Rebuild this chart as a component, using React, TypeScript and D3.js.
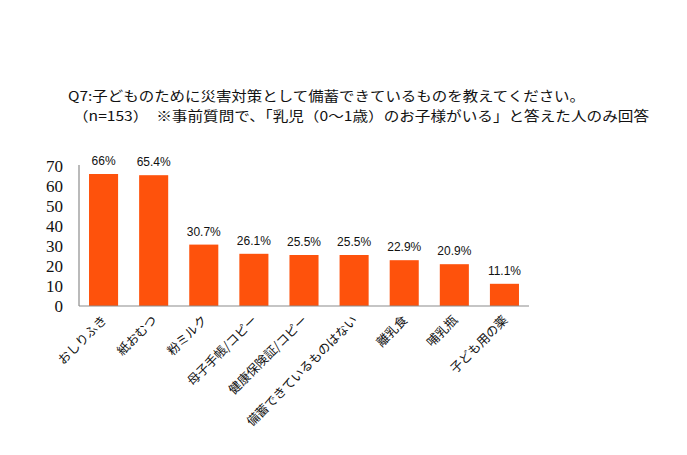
import { useEffect, useRef } from 'react';
import * as d3 from 'd3';

const categories = [
  'おしりふき',
  '紙おむつ',
  '粉ミルク',
  '母子手帳/コピー',
  '健康保険証/コピー',
  '備蓄できているものはない',
  '離乳食',
  '哺乳瓶',
  '子ども用の薬',
];
const values = [66, 65.4, 30.7, 26.1, 25.5, 25.5, 22.9, 20.9, 11.1];
const valueLabels = ['66%', '65.4%', '30.7%', '26.1%', '25.5%', '25.5%', '22.9%', '20.9%', '11.1%'];
const yTicks = [0, 10, 20, 30, 40, 50, 60, 70];

const titleLine1 = 'Q7:子どものために災害対策として備蓄できているものを教えてください。';
const titleLine2 = '（n=153）　※事前質問で、「乳児（0～1歳）のお子様がいる」と答えた人のみ回答';

const App = () => {
  const svgRef = useRef<SVGSVGElement>(null);

  useEffect(() => {
    const svg = d3.select(svgRef.current);
    svg.selectAll('*').remove();

    const left = 79;
    const right = 529;
    const top = 166;
    const bottom = 306;

    svg.append('rect').attr('width', 687).attr('height', 455).attr('fill', '#fff');

    // Title
    const jp = '"Noto Sans CJK JP", sans-serif';
    svg
      .append('text')
      .attr('x', 68)
      .attr('y', 101)
      .attr('textLength', 517)
      .attr('lengthAdjust', 'spacingAndGlyphs')
      .style('font-family', jp)
      .style('font-size', '13.5px')
      .style('fill', '#111')
      .text(titleLine1);
    svg
      .append('text')
      .attr('x', 73)
      .attr('y', 121)
      .attr('textLength', 576)
      .attr('lengthAdjust', 'spacingAndGlyphs')
      .style('font-family', jp)
      .style('font-size', '13.5px')
      .style('fill', '#111')
      .text(titleLine2);

    const x = d3.scaleBand().domain(categories).range([left, right]).paddingInner(0.42).paddingOuter(0.2);
    const y = d3.scaleLinear().domain([0, 70]).range([bottom, top]);

    // Y tick labels (no tick marks)
    svg
      .append('g')
      .selectAll('text')
      .data(yTicks)
      .enter()
      .append('text')
      .attr('x', 63)
      .attr('y', d => y(d) + 6)
      .attr('text-anchor', 'end')
      .style('font-family', '"Liberation Serif", serif')
      .style('font-size', '17px')
      .style('fill', '#111')
      .text(d => d);

    // Bars
    svg
      .append('g')
      .selectAll('rect')
      .data(values)
      .enter()
      .append('rect')
      .attr('x', (d, i) => x(categories[i])!)
      .attr('y', d => y(d))
      .attr('width', x.bandwidth())
      .attr('height', d => y(0) - y(d))
      .attr('fill', '#fe520c');

    // Value labels
    svg
      .append('g')
      .selectAll('text')
      .data(values)
      .enter()
      .append('text')
      .attr('x', (d, i) => x(categories[i])! + x.bandwidth() / 2)
      .attr('y', d => y(d) - 9)
      .attr('text-anchor', 'middle')
      .style('font-family', '"Liberation Sans", Arial, sans-serif')
      .style('font-size', '12px')
      .style('fill', '#111')
      .text((d, i) => valueLabels[i]);

    // Axis lines
    svg
      .append('line')
      .attr('x1', left)
      .attr('x2', left)
      .attr('y1', top - 1)
      .attr('y2', bottom)
      .attr('stroke', '#8c8c8c')
      .attr('stroke-width', 1.2);
    svg
      .append('line')
      .attr('x1', left)
      .attr('x2', right)
      .attr('y1', bottom)
      .attr('y2', bottom)
      .attr('stroke', '#8c8c8c')
      .attr('stroke-width', 1.2);

    // Category labels, rotated
    svg
      .append('g')
      .selectAll('text')
      .data(categories)
      .enter()
      .append('text')
      .attr('transform', d => `translate(${x(d)! + x.bandwidth() / 2 + 4},${bottom + 15}) rotate(-45)`)
      .attr('text-anchor', 'end')
      .style('font-family', jp)
      .style('font-size', '12.5px')
      .style('fill', '#111')
      .text(d => d);
  }, []);

  return (
    <svg
      ref={svgRef}
      width={687}
      height={455}
      style={{ position: 'absolute', left: 0, top: 0 }}
    ></svg>
  );
};

export default App;
